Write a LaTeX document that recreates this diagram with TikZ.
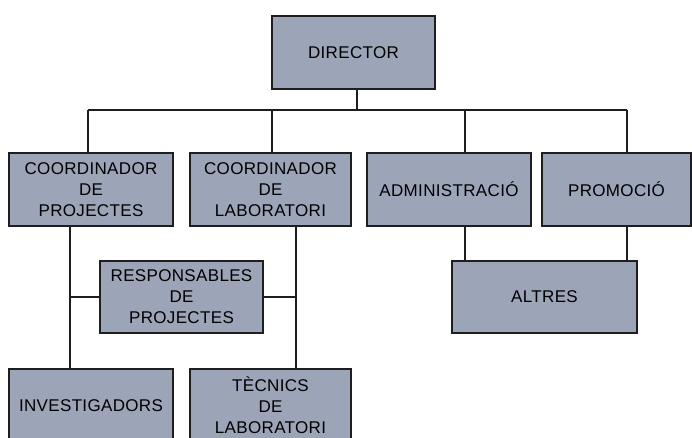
\documentclass[tikz,border=0pt]{standalone}
\usepackage{fontspec}
\setmainfont{Liberation Sans}[LetterSpace=2]
\definecolor{boxfill}{RGB}{156,164,184}
\definecolor{ink}{RGB}{30,30,30}
\begin{document}
\begin{tikzpicture}[x=1pt,y=-1pt,
  orgbox/.style={draw=ink, fill=boxfill, line width=1.6pt, inner sep=0pt,
    align=center, font=\fontsize{17}{21}\selectfont, text=black},
  conn/.style={draw=ink, line width=1.3pt}]
\useasboundingbox (0,0) rectangle (692,438);
\clip (0,0) rectangle (692,438);
\fill[white] (0,0) rectangle (692,438);
% nodes
\node[orgbox, minimum width=163pt, minimum height=73pt] (dir) at (353.5,52.5) {DIRECTOR};
\node[orgbox, minimum width=164pt, minimum height=73pt] (cp) at (91,189.5) {COORDINADOR\\DE\\PROJECTES};
\node[orgbox, minimum width=161pt, minimum height=73pt] (cl) at (270.5,189.5) {COORDINADOR\\DE\\LABORATORI};
\node[orgbox, minimum width=164pt, minimum height=73pt] (adm) at (449,189.5) {ADMINISTRACIÓ};
\node[orgbox, minimum width=149pt, minimum height=73pt] (pro) at (616.5,189.5) {PROMOCIÓ};
\node[orgbox, minimum width=185pt, minimum height=72pt] (alt) at (544.5,297) {ALTRES};
\node[orgbox, minimum width=163pt, minimum height=72pt] (resp) at (181.5,297) {RESPONSABLES\\DE\\PROJECTES};
\node[orgbox, minimum width=164pt, minimum height=73pt] (inv) at (91,405.5) {INVESTIGADORS};
\node[orgbox, minimum width=161pt, minimum height=73pt] (tec) at (270.5,405.5) {TÈCNICS\\DE\\LABORATORI};
% bar taps
\coordinate (t1) at (88,110);
\coordinate (t2) at (272,110);
\coordinate (t3) at (357,110);
\coordinate (t4) at (465,110);
\coordinate (t5) at (627,110);
\coordinate (v1) at (70,297);
\coordinate (v2) at (296,297);
% connectors
\draw[conn] (t1) -- (t5);
\draw[conn] (t3) -- (t3 |- dir.south);
\draw[conn] (t1) -- (t1 |- cp.north);
\draw[conn] (t2) -- (t2 |- cl.north);
\draw[conn] (t4) -- (t4 |- adm.north);
\draw[conn] (t5) -- (t5 |- pro.north);
\draw[conn] (t4 |- adm.south) -- (t4 |- alt.north);
\draw[conn] (t5 |- pro.south) -- (t5 |- alt.north);
\draw[conn] (v1 |- cp.south) -- (v1 |- inv.north);
\draw[conn] (v2 |- cl.south) -- (v2 |- tec.north);
\draw[conn] (v1) -- (resp.west);
\draw[conn] (v2) -- (resp.east);
\end{tikzpicture}
\end{document}
